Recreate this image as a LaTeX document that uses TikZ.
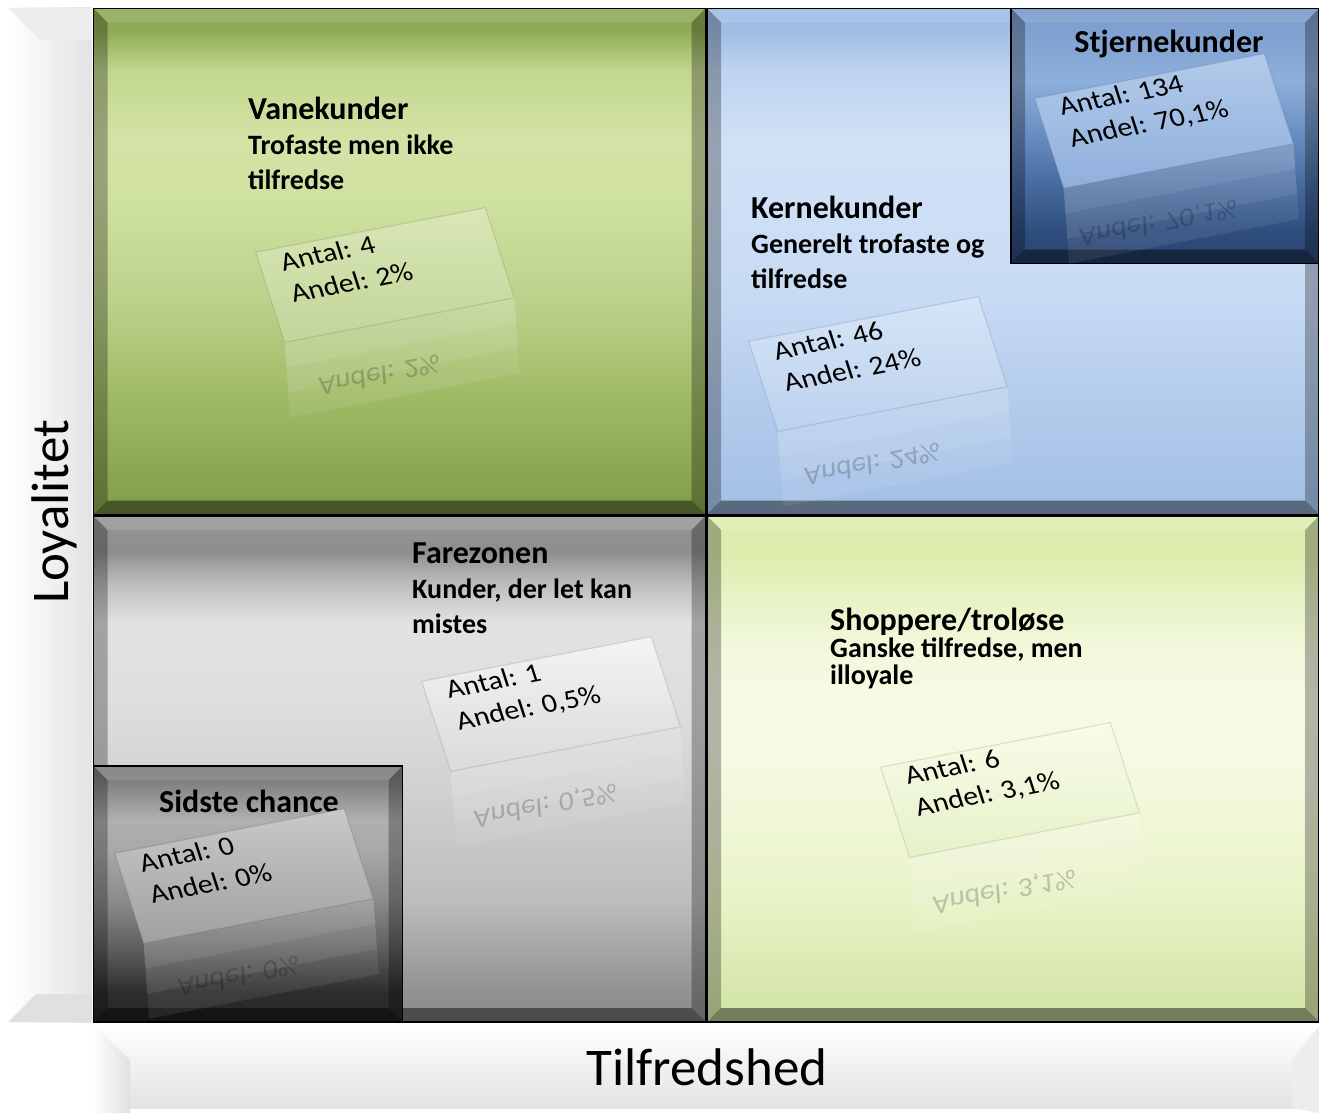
\documentclass[tikz,border=0pt]{standalone}
\usepackage{fontspec}
\setmainfont{Carlito}
\usepackage{xcolor}
\usepackage{tikz}
\usetikzlibrary{positioning}
% bars
\definecolor{BarGrey}{HTML}{E3E3E3}
\definecolor{BarTop}{HTML}{EDEDED}
\definecolor{BarSide}{HTML}{E0E0E0}
% Vanekunder face
\definecolor{VaA}{HTML}{7F9C46}\definecolor{VaB}{HTML}{9FBA65}\definecolor{VaC}{HTML}{BBD18A}
\definecolor{VaD}{HTML}{CFE1A0}\definecolor{VaE}{HTML}{D3E3A5}\definecolor{VaF}{HTML}{C2D78F}
\definecolor{VaG}{HTML}{8FAB56}\definecolor{VaH}{HTML}{8CA853}
% Kernekunder face
\definecolor{KeA}{HTML}{A2BFE6}\definecolor{KeB}{HTML}{B4CCEC}\definecolor{KeC}{HTML}{C6DAF3}
\definecolor{KeD}{HTML}{CFE0F6}\definecolor{KeE}{HTML}{D0E1F6}\definecolor{KeF}{HTML}{BDD3F0}
\definecolor{KeG}{HTML}{A0BEE6}\definecolor{KeH}{HTML}{9DBBE3}
% Farezonen face
\definecolor{FaA}{HTML}{8A8A8A}\definecolor{FaB}{HTML}{929292}\definecolor{FaC}{HTML}{BDBDBD}
\definecolor{FaD}{HTML}{D6D6D6}\definecolor{FaE}{HTML}{DEDEDE}\definecolor{FaF}{HTML}{E2E2E2}
\definecolor{FaG}{HTML}{BBBBBB}\definecolor{FaH}{HTML}{8E8E8E}\definecolor{FaI}{HTML}{959595}
% Shoppere face
\definecolor{ShA}{HTML}{D1E4A4}\definecolor{ShB}{HTML}{D6E7AC}\definecolor{ShC}{HTML}{E8F3C6}
\definecolor{ShD}{HTML}{F5FAE3}\definecolor{ShE}{HTML}{F6FBE6}\definecolor{ShF}{HTML}{F1F8DA}
\definecolor{ShG}{HTML}{E3F1BC}\definecolor{ShH}{HTML}{DCEDAD}
% Stjernekunder face
\definecolor{StA}{HTML}{284270}\definecolor{StB}{HTML}{2F4E7E}\definecolor{StC}{HTML}{4A6EA3}
\definecolor{StD}{HTML}{6C90C4}\definecolor{StE}{HTML}{8DAFDB}\definecolor{StF}{HTML}{7D9ECE}
\definecolor{StG}{HTML}{7495C6}
% Sidste chance face
\definecolor{SiA}{HTML}{242424}\definecolor{SiB}{HTML}{2E2E2E}\definecolor{SiC}{HTML}{5C5C5C}
\definecolor{SiD}{HTML}{8A8A8A}\definecolor{SiE}{HTML}{A8A8A8}\definecolor{SiF}{HTML}{B0B0B0}
\definecolor{SiG}{HTML}{808080}\definecolor{SiH}{HTML}{787878}
% cards
\definecolor{CvA}{HTML}{D9E7B6}\definecolor{CvB}{HTML}{C1D59A}
\definecolor{CkA}{HTML}{D6E5F7}\definecolor{CkB}{HTML}{BCD2EE}
\definecolor{CsA}{HTML}{B3CBEA}\definecolor{CsB}{HTML}{8FAFDC}
\definecolor{CfA}{HTML}{F4F4F4}\definecolor{CfB}{HTML}{DADADA}
\definecolor{CcA}{HTML}{C9C9C9}\definecolor{CcB}{HTML}{A0A0A0}
\definecolor{CtA}{HTML}{F8FCEA}\definecolor{CtB}{HTML}{E6F1C8}

\pgfdeclareverticalshading{vaneface}{100bp}{color(0bp)=(VaA); color(25bp)=(VaA); color(36.5bp)=(VaB); color(46bp)=(VaC); color(56bp)=(VaD); color(62bp)=(VaE); color(68.9bp)=(VaF); color(72.8bp)=(VaG); color(75bp)=(VaH); color(100bp)=(VaH)}
\pgfdeclareverticalshading{kerneface}{100bp}{color(0bp)=(KeA); color(25bp)=(KeA); color(36.5bp)=(KeB); color(46bp)=(KeC); color(56bp)=(KeD); color(62bp)=(KeE); color(68.9bp)=(KeF); color(72.8bp)=(KeG); color(75bp)=(KeH); color(100bp)=(KeH)}
\pgfdeclareverticalshading{fareface}{100bp}{color(0bp)=(FaA); color(25bp)=(FaA); color(28.15bp)=(FaB); color(37bp)=(FaC); color(51bp)=(FaD); color(56.75bp)=(FaE); color(64.5bp)=(FaF); color(68.5bp)=(FaG); color(71.5bp)=(FaH); color(75bp)=(FaI); color(100bp)=(FaI)}
\pgfdeclareverticalshading{shopface}{100bp}{color(0bp)=(ShA); color(25bp)=(ShA); color(28bp)=(ShB); color(37bp)=(ShC); color(51bp)=(ShD); color(56.75bp)=(ShE); color(62.5bp)=(ShF); color(68.5bp)=(ShG); color(71.5bp)=(ShH); color(75bp)=(ShH); color(100bp)=(ShH)}
\pgfdeclareverticalshading{stjerneface}{100bp}{color(0bp)=(StA); color(25bp)=(StA); color(31.5bp)=(StB); color(41.5bp)=(StC); color(51bp)=(StD); color(61bp)=(StE); color(72.5bp)=(StF); color(75bp)=(StG); color(100bp)=(StG)}
\pgfdeclareverticalshading{sidsteface}{100bp}{color(0bp)=(SiA); color(25bp)=(SiA); color(31bp)=(SiB); color(39bp)=(SiC); color(48.5bp)=(SiD); color(58.5bp)=(SiE); color(64.5bp)=(SiF); color(72bp)=(SiG); color(75bp)=(SiH); color(100bp)=(SiH)}

\begin{document}
\begin{tikzpicture}[
  x=1pt,y=-1pt,
  quad/.style={draw=black,line width=1.5pt,inner sep=0pt,shading=#1,
    path picture={
      \coordinate (bnw) at (path picture bounding box.north west);
      \coordinate (bne) at (path picture bounding box.north east);
      \coordinate (bsw) at (path picture bounding box.south west);
      \coordinate (bse) at (path picture bounding box.south east);
      \fill[white,fill opacity=0.12] (bnw) -- (bne) -- ([shift={(-14,14)}]bne) -- ([shift={(14,14)}]bnw) -- cycle;
      \fill[black,fill opacity=0.28] (bnw) -- ([shift={(14,14)}]bnw) -- ([shift={(14,-14)}]bsw) -- (bsw) -- cycle;
      \fill[black,fill opacity=0.28] (bne) -- ([shift={(-14,14)}]bne) -- ([shift={(-14,-14)}]bse) -- (bse) -- cycle;
      \fill[black,fill opacity=0.45] (bsw) -- (bse) -- ([shift={(-14,-14)}]bse) -- ([shift={(14,-14)}]bsw) -- cycle;
    }},
  qsize/.style={minimum width=612pt,minimum height=506pt},
  grp/.style={anchor=base west,align=left,inner sep=0pt,font=\bfseries\fontsize{28}{35}\selectfont},
  head/.style={anchor=base,inner sep=0pt,font=\bfseries\fontsize{32}{35}\selectfont},
  card/.style 2 args={top color=#1,bottom color=#2,draw=#2!75!black,draw opacity=0.35,line width=1.2pt,
    rotate=11,xslant=-0.12,minimum width=234pt,minimum height=94pt,inner sep=0pt},
  cardtext/.style={rotate=11,xshift=-98pt,yshift=16pt,xslant=-0.12,xscale=1.1,anchor=west,
    align=left,inner sep=0pt,font=\fontsize{27}{33}\selectfont},
  mirrorcard/.style={rotate=11,xshift={5.64pt-0.06*#1pt},yshift={-47pt-0.5*#1pt},yscale=-1,xslant=-0.12,
    minimum width=234pt,minimum height=#1pt,fill=white,fill opacity=0.08,inner sep=0pt},
  mirrortext/.style={rotate=11,xshift=-25pt,yshift=-98pt,yscale=-1,xslant=-0.12,xscale=1.1,
    text opacity=0.2,inner sep=0pt,font=\fontsize{27}{33}\selectfont},
  axis/.style={inner sep=0pt,font=\fontsize{53}{60}\selectfont}
]
\useasboundingbox (0,0) rectangle (1319,1113);
% axis bars
\shade[left color=white,right color=BarGrey] (8,8) rectangle (92,1022);
\fill[BarTop] (8,8) -- (92,8) -- (92,40) -- (40,40) -- cycle;
\fill[BarSide] (8,1022) -- (36,994) -- (92,994) -- (92,1022) -- cycle;
\shade[top color=white,bottom color=BarGrey] (92,1024) rectangle (1319,1108);
\shade[left color=white,right color=BarSide] (92,1024) -- (130,1060) -- (130,1113) -- (92,1113) -- cycle;
\fill[BarTop] (1319,1026) -- (1292,1060) -- (1292,1108) -- (1319,1113) -- cycle;
\node[axis,rotate=90,anchor=base] (loyal) at (68,512) {Loyalitet};
\node[axis,anchor=base] (tilfreds) at (707,1085) {Tilfredshed};
% quadrants
\node[quad=vaneface,qsize] (vane) at (399.5,261.5) {};
\node[quad=kerneface,qsize,right=0pt of vane] (kerne) {};
\node[quad=fareface,qsize,below=0pt of vane] (fare) {};
\node[quad=shopface,qsize,below=0pt of kerne] (shop) {};
\node[quad=stjerneface,minimum width=308pt,minimum height=255pt,anchor=north east] (stjerne) at (kerne.north east) {};
\node[quad=sidsteface,minimum width=309pt,minimum height=256pt,anchor=south west] (sidste) at (fare.south west) {};
% titles
\node[grp] (vanetxt) at (248,189) {{\fontsize{32}{35}\selectfont Vanekunder}\\Trofaste men ikke\\tilfredse};
\node[grp] (kernetxt) at (751,288) {{\fontsize{32}{35}\selectfont Kernekunder}\\Generelt trofaste og\\tilfredse};
\node[grp] (faretxt) at (412,633) {{\fontsize{32}{35}\selectfont Farezonen}\\Kunder, der let kan\\mistes};
\node[grp,font=\bfseries\fontsize{28}{27}\selectfont] (shoptxt) at (830,684) {{\fontsize{32}{27}\selectfont Shoppere/troløse}\\Ganske tilfredse, men\\illoyale};
\node[head] (stjernetxt) at (1169,53) {Stjernekunder};
\node[head] (sidstetxt) at (249,812) {Sidste chance};
% cards with reflections
\node[mirrorcard=75] (vanerefl) at (385,275) {};
\node[mirrorcard=50] at (385,275) {};
\node[mirrorcard=25] at (385,275) {};
\node[card={CvA}{CvB}] (vanecard) at (385,275) {};
\node[cardtext] at (vanecard.center) {Antal: 4\\Andel: 2\%};
\node[mirrortext] at (vanecard.center) {Andel: 2\%};
\node[mirrorcard=75] (kernerefl) at (878,364) {};
\node[mirrorcard=50] at (878,364) {};
\node[mirrorcard=25] at (878,364) {};
\node[card={CkA}{CkB}] (kernecard) at (878,364) {};
\node[cardtext] at (kernecard.center) {Antal: 46\\Andel: 24\%};
\node[mirrortext] at (kernecard.center) {Andel: 24\%};
\node[mirrorcard=75] (stjernerefl) at (1164,121) {};
\node[mirrorcard=50] at (1164,121) {};
\node[mirrorcard=25] at (1164,121) {};
\node[card={CsA}{CsB}] (stjernecard) at (1164,121) {};
\node[cardtext] at (stjernecard.center) {Antal: 134\\Andel: 70,1\%};
\node[mirrortext] at (stjernecard.center) {Andel: 70,1\%};
\node[mirrorcard=75] (farerefl) at (551,704) {};
\node[mirrorcard=50] at (551,704) {};
\node[mirrorcard=25] at (551,704) {};
\node[card={CfA}{CfB}] (farecard) at (551,704) {};
\node[cardtext] at (farecard.center) {Antal: 1\\Andel: 0,5\%};
\node[mirrortext] at (farecard.center) {Andel: 0,5\%};
\node[mirrorcard=75] (sidsterefl) at (244,876) {};
\node[mirrorcard=50] at (244,876) {};
\node[mirrorcard=25] at (244,876) {};
\node[card={CcA}{CcB}] (sidstecard) at (244,876) {};
\node[cardtext] at (sidstecard.center) {Antal: 0\\Andel: 0\%};
\node[mirrortext] at (sidstecard.center) {Andel: 0\%};
\node[mirrorcard=75] (shoprefl) at (1010,790) {};
\node[mirrorcard=50] at (1010,790) {};
\node[mirrorcard=25] at (1010,790) {};
\node[card={CtA}{CtB}] (shopcard) at (1010,790) {};
\node[cardtext] at (shopcard.center) {Antal: 6\\Andel: 3,1\%};
\node[mirrortext] at (shopcard.center) {Andel: 3,1\%};
\end{tikzpicture}
\end{document}
